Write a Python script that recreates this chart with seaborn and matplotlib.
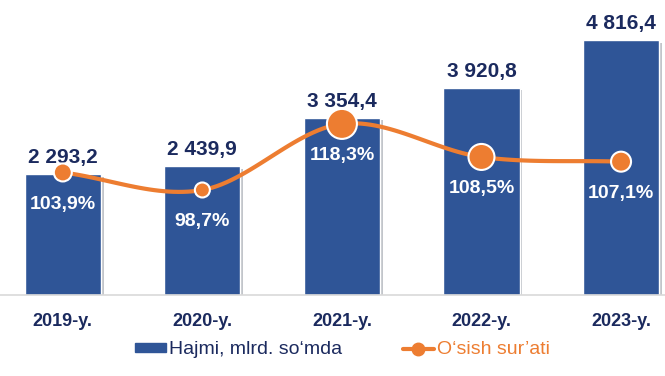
import numpy as np
import seaborn as sns
import matplotlib.pyplot as plt
from matplotlib.patches import Patch
from matplotlib.lines import Line2D
import matplotlib.patheffects as pe

# data
years = ['2019-y.', '2020-y.', '2021-y.', '2022-y.', '2023-y.']
volume = [2293.2, 2439.9, 3354.4, 3920.8, 4816.4]
growth = [103.9, 98.7, 118.3, 108.5, 107.1]
growth_labels = ['103,9%', '98,7%', '118,3%', '108,5%', '107,1%']

blue = '#2F5597'
orange = '#ED7D31'
navy = '#1B2A5E'

sns.set_theme(style='white')
plt.rcParams['font.family'] = ['Liberation Sans', 'DejaVu Sans']

fig = plt.figure(figsize=(6.65, 3.76), dpi=100)
ax = fig.add_axes([0, 0.215, 1, 0.78])

sns.barplot(x=years, y=volume, color=blue, saturation=1, width=0.545, ax=ax)
for bar in ax.patches:
    bar.set_path_effects([pe.SimplePatchShadow(offset=(2, -2), alpha=0.25), pe.Normal()])

ax.set_xlim(-0.45, 4.315)
ax.set_ylim(0, 5540)
ax.set_yticks([])
ax.set_ylabel('')
for s in ['top', 'left', 'right']:
    ax.spines[s].set_visible(False)
ax.spines['bottom'].set_color('#D9D9D9')
ax.spines['bottom'].set_linewidth(1.2)
ax.tick_params(axis='x', length=0, pad=13)
for lbl in ax.get_xticklabels():
    lbl.set_fontweight('bold')
    lbl.set_fontsize(13)
    lbl.set_color(navy)

for i, v in enumerate(volume):
    txt = f'{v:,.1f}'.replace(',', ' ').replace('.', ',')
    ax.annotate(txt, (i, v), xytext=(0, 5), textcoords='offset points',
                ha='center', va='bottom', fontsize=15, fontweight='bold', color=navy)

# growth line on secondary axis, smoothed (Catmull-Rom)
ax2 = ax.twinx()
ax2.set_ylim(67.5, 154.5)
ax2.set_yticks([])
for s in ['top', 'left', 'right', 'bottom']:
    ax2.spines[s].set_visible(False)

x = np.arange(len(growth), dtype=float)
y = np.array(growth)
tang = np.gradient(y, x)
xs, ys = [], []
for i in range(len(x) - 1):
    t = np.linspace(0, 1, 30)
    h00 = 2 * t**3 - 3 * t**2 + 1
    h10 = t**3 - 2 * t**2 + t
    h01 = -2 * t**3 + 3 * t**2
    h11 = t**3 - t**2
    xs.extend(x[i] + t)
    ys.extend(h00 * y[i] + h10 * tang[i] + h01 * y[i + 1] + h11 * tang[i + 1])
sns.lineplot(x=xs, y=ys, color=orange, linewidth=3, sort=False, ax=ax2)

marker_px = [18, 15, 30, 26, 20]
ax2.scatter(x, y, s=[(d * 0.72) ** 2 for d in marker_px], color=orange,
            edgecolor='white', linewidth=1.5, zorder=5)

for i, v in enumerate(growth):
    ax2.annotate(growth_labels[i], (i, v), xytext=(0, -23), textcoords='offset points',
                 ha='center', va='center', fontsize=14, fontweight='bold', color='white')

handles = [Patch(color=blue),
           Line2D([0], [0], color=orange, lw=3, marker='o', markersize=9,
                  markeredgecolor=orange)]
leg = fig.legend(handles, ['Hajmi, mlrd. so‘mda', 'O‘sish sur’ati'],
                 loc='lower center', bbox_to_anchor=(0.515, 0.0), ncol=2, frameon=False,
                 fontsize=14, handlelength=1.6, handleheight=0.4, columnspacing=3.1,
                 handletextpad=0.15)
leg.get_texts()[0].set_color(navy)
leg.get_texts()[1].set_color(orange)

fig.savefig('out.png', dpi=100)
